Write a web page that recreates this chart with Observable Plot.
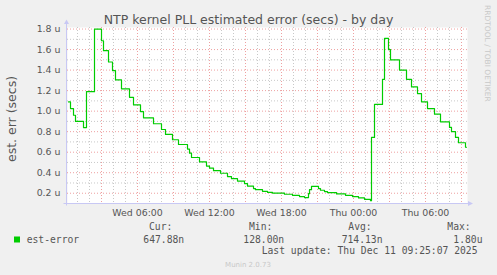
<!DOCTYPE html>
<html><head><meta charset="utf-8">
<script src="https://cdn.jsdelivr.net/npm/d3@7"></script>
<script src="https://cdn.jsdelivr.net/npm/@observablehq/plot@0.6"></script>
<style>
html,body{margin:0;padding:0;background:#f0f0f0;}
#chart{position:relative;width:497px;height:275px;overflow:hidden;}
svg{display:block;}
</style></head><body><div id="chart"></div>
<script>
// ---- data (values in microseconds) ----
const times = [
 "2025-12-10T00:15","2025-12-10T00:25","2025-12-10T00:40","2025-12-10T00:50","2025-12-10T01:30",
 "2025-12-10T01:45","2025-12-10T02:25","2025-12-10T03:00","2025-12-10T03:10","2025-12-10T03:35",
 "2025-12-10T03:55","2025-12-10T04:10","2025-12-10T04:40","2025-12-10T05:20","2025-12-10T05:40",
 "2025-12-10T06:15","2025-12-10T06:30","2025-12-10T07:20","2025-12-10T08:00","2025-12-10T08:20",
 "2025-12-10T08:55","2025-12-10T09:25","2025-12-10T10:10","2025-12-10T10:20","2025-12-10T10:30",
 "2025-12-10T11:10","2025-12-10T11:45","2025-12-10T12:00","2025-12-10T12:20","2025-12-10T12:55",
 "2025-12-10T13:30","2025-12-10T13:50","2025-12-10T14:20","2025-12-10T14:55","2025-12-10T15:10",
 "2025-12-10T15:40","2025-12-10T15:50","2025-12-10T16:25","2025-12-10T16:50","2025-12-10T17:15",
 "2025-12-10T18:15","2025-12-10T18:55","2025-12-10T19:30","2025-12-10T19:55","2025-12-10T20:15",
 "2025-12-10T20:20","2025-12-10T20:30","2025-12-10T21:05","2025-12-10T21:15","2025-12-10T21:35",
 "2025-12-10T21:50","2025-12-10T22:35","2025-12-10T23:20","2025-12-10T23:55","2025-12-11T00:25",
 "2025-12-11T00:55","2025-12-11T01:25","2025-12-11T01:30","2025-12-11T01:45","2025-12-11T02:25",
 "2025-12-11T02:35","2025-12-11T02:55","2025-12-11T03:05","2025-12-11T03:50","2025-12-11T04:25",
 "2025-12-11T04:50","2025-12-11T05:20","2025-12-11T05:40","2025-12-11T06:10","2025-12-11T06:45",
 "2025-12-11T07:15","2025-12-11T08:00","2025-12-11T08:10","2025-12-11T08:30","2025-12-11T08:45",
 "2025-12-11T09:20","2025-12-11T09:25"
];
const estError = [
 1.09,1.025,0.96,0.90,0.84,
 1.19,1.80,1.686,1.589,1.479,
 1.395,1.304,1.217,1.135,1.061,
 0.996,0.935,0.877,0.821,0.773,
 0.721,0.675,0.63,0.59,0.548,
 0.505,0.465,0.445,0.42,0.395,
 0.362,0.342,0.319,0.294,0.27,
 0.245,0.235,0.219,0.209,0.202,
 0.19,0.18,0.167,0.158,0.196,
 0.235,0.267,0.245,0.229,0.216,
 0.206,0.193,0.18,0.167,0.154,
 0.141,0.128,0.744,1.065,1.31,
 1.709,1.60,1.499,1.40,1.31,
 1.236,1.171,1.091,1.025,0.97,
 0.896,0.841,0.80,0.744,0.692,
 0.648,0.648
];
const yTicks = [0.2,0.4,0.6,0.8,1.0,1.2,1.4,1.6,1.8];
const yMinor = [0.1,0.3,0.5,0.7,0.9,1.1,1.3,1.5,1.7];
const xTickTimes = ["2025-12-10T06:00","2025-12-10T12:00","2025-12-10T18:00","2025-12-11T00:00","2025-12-11T06:00"];
const xDomain = ["2025-12-10T00:10","2025-12-11T09:30"];
const title = "NTP kernel PLL estimated error (secs) - by day";
const yLabel = "est. err (secs)";
const seriesName = "est-error";
const statHeaders = ["Cur:","Min:","Avg:","Max:"];
const statValues = ["647.88n","128.00n","714.13n","1.80u"];
const lastUpdate = "Last update: Thu Dec 11 09:25:07 2025";
const footer = "Munin 2.0.73";
const sideText = "RRDTOOL / TOBI OETIKER";

// ---- build ----
const parse = d3.utcParse("%Y-%m-%dT%H:%M");
const data = times.map((t,i)=>({t:parse(t), v:estError[i]}));
const dom = xDomain.map(parse);
const hours = d3.utcHour.range(dom[0], dom[1]);
const minorX = hours.filter(d=>d.getUTCHours()%3!==0);
const majorX = hours.filter(d=>d.getUTCHours()%3===0);
const green = "#00cc00";
const minorStyle = {stroke:"#c8c8c8", strokeDasharray:"1,2"};
const majorStyle = {stroke:"#eea0a0", strokeDasharray:"1,2"};

const chart = Plot.plot({
  width:497, height:275,
  marginLeft:67, marginRight:30, marginTop:27, marginBottom:72,
  style:{background:"transparent", fontFamily:"DejaVu Sans", fontSize:"9.4px", color:"#555", overflow:"visible"},
  x:{type:"utc", domain:dom},
  y:{domain:[0.1,1.815]},
  marks:[
    Plot.frame({fill:"white", stroke:null}),
    Plot.ruleY(yMinor, minorStyle),
    Plot.ruleX(minorX, minorStyle),
    Plot.ruleY(yTicks, majorStyle),
    Plot.ruleX(majorX, majorStyle),
    Plot.axisY(yTicks, {tickSize:0, tickPadding:7, tickFormat:d=>d.toFixed(1)+" u", label:null}),
    Plot.axisX(xTickTimes.map(parse), {tickSize:0, tickPadding:5.5, tickFormat:d3.utcFormat("%a %H:%M"), label:null}),
    Plot.line(data, {x:"t", y:"v", curve:"step-after", stroke:green, strokeWidth:1.2})
  ]
});
document.getElementById("chart").appendChild(chart);

const svg = d3.select(chart);
const sx = chart.scale("x"), sy = chart.scale("y");
const x0 = sx.apply(dom[0]) - 0.5, x1 = sx.apply(dom[1]);
const yb = sy.apply(0.1) + 0.5, yt = sy.apply(1.815);
const axisColor = "#c8c8f4";
svg.append("line").attr("x1",x0).attr("x2",x0).attr("y1",yb+2).attr("y2",yt-4).attr("stroke",axisColor);
svg.append("line").attr("x1",x0-3).attr("x2",x1+2).attr("y1",yb).attr("y2",yb).attr("stroke",axisColor);
svg.append("path").attr("d",`M${x0-2.5},${yt-3} L${x0+2.5},${yt-3} L${x0},${yt-7.5} Z`).attr("fill",axisColor);
svg.append("path").attr("d",`M${x1+1},${yb-2.5} L${x1+1},${yb+2.5} L${x1+6},${yb} Z`).attr("fill",axisColor);

const txt = (s,x,y,opt={}) => svg.append("text").text(s).attr("x",x).attr("y",y)
  .attr("font-family",opt.ff||"DejaVu Sans").attr("font-size",opt.fs||"9.7px")
  .attr("fill",opt.fill||"#555").attr("text-anchor",opt.anchor||"start")
  .attr("transform",opt.tr||null).style("white-space","pre");

txt(title, 248.5, 24, {fs:"12.5px", anchor:"middle"});
txt(yLabel, 0, 0, {fs:"12.5px", anchor:"middle", tr:"translate(15.5,119) rotate(-90)"});
txt(sideText, 0, 0, {fs:"7.5px", fill:"#c8c8c8", anchor:"start", tr:"translate(485,5) rotate(90)"});

svg.append("rect").attr("x",14).attr("y",236.5).attr("width",6).attr("height",6).attr("fill",green);
const mono = "DejaVu Sans Mono";
txt(seriesName, 26.7, 242.5, {ff:mono});
const hx = [149, 249, 348.3, 447.3];
const vx = [143.3, 243.3, 341.7, 453.3];
statHeaders.forEach((s,i)=>txt(s, hx[i], 230.3, {ff:mono}));
statValues.forEach((s,i)=>txt(s, vx[i], 242.5, {ff:mono}));
txt(lastUpdate, 261.7, 254.3, {ff:mono});
txt(footer, 248, 266.7, {fs:"7px", fill:"#c8c8c8", anchor:"middle"});
</script></body></html>
